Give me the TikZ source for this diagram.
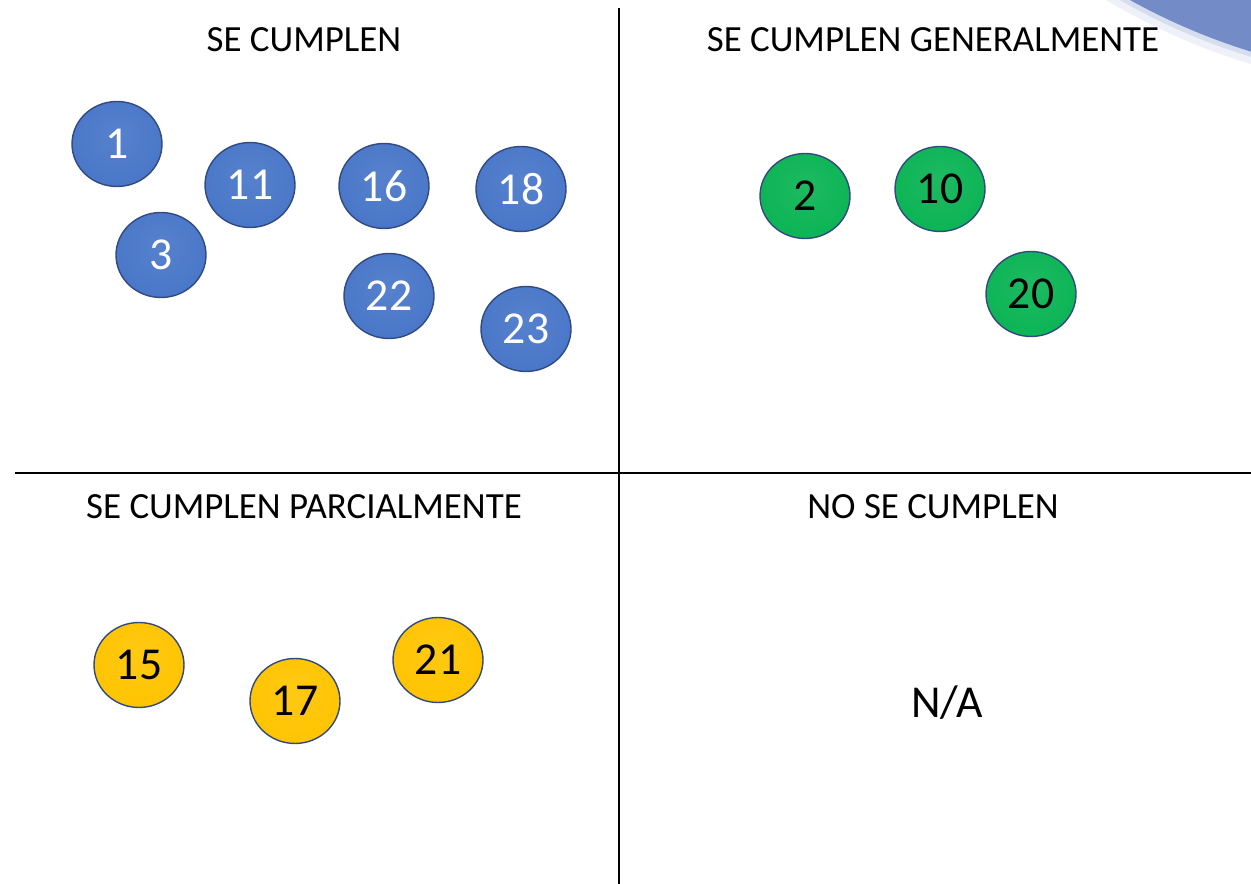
\documentclass[tikz,border=0pt]{standalone}
\usepackage{fontspec}
\setmainfont{Carlito}
\usetikzlibrary{shapes.geometric}

\definecolor{ballblue}{RGB}{72,118,200}
\definecolor{ballgreen}{RGB}{10,180,84}
\definecolor{ballyellow}{RGB}{255,196,0}
\definecolor{rimblue}{RGB}{50,74,128}
\definecolor{cornerblue}{RGB}{115,140,200}

\pgfdeclareradialshading{blueball}{\pgfpoint{0bp}{6bp}}{color(0bp)=(ballblue!92!white); color(30bp)=(ballblue); color(43bp)=(ballblue); color(52bp)=(ballblue!55!black)}
\pgfdeclareradialshading{greenball}{\pgfpoint{0bp}{6bp}}{color(0bp)=(ballgreen!92!white); color(30bp)=(ballgreen); color(43bp)=(ballgreen); color(52bp)=(ballgreen!55!black)}
\pgfdeclareradialshading{yellowball}{\pgfpoint{0bp}{6bp}}{color(0bp)=(ballyellow!92!white); color(30bp)=(ballyellow); color(43bp)=(ballyellow); color(52bp)=(ballyellow!65!black)}

\tikzset{
  every ball/.style={ellipse, minimum width=1.8cm, minimum height=1.7cm, inner sep=0pt,
    draw=rimblue, line width=0.8pt, font=\fontsize{26}{26}\selectfont},
  ball blue/.style={every ball, shading=blueball, text=white},
  ball green/.style={every ball, shading=greenball, text=black},
  ball yellow/.style={every ball, shading=yellowball, text=black},
  quadrant title/.style={font=\fontsize{21}{21}\selectfont, text=black},
}

\begin{document}
\begin{tikzpicture}[x=0.02cm, y=-0.02cm]

        \useasboundingbox (0,0) rectangle (1251,884);

        % corner shape
        \begin{scope}
          \clip (0,0) rectangle (1251,884);
          \fill [white!88!cornerblue] (1440,-560) circle (652);
          \fill [white!70!cornerblue] (1440,-560) circle (645);
          \fill [cornerblue] (1440,-560) circle (640);
        \end{scope}

        % quadrant dividers
        \draw [line width=1.2pt] (619,8) -- (619,884);
        \draw [line width=1.2pt] (15,473) -- (1251,473);

        \node [quadrant title] (title-se) at (304,40) {SE CUMPLEN};
        \node [quadrant title] (title-gen) at (933,40) {SE CUMPLEN GENERALMENTE};
        \node [quadrant title] (title-par) at (304,507) {SE CUMPLEN PARCIALMENTE};
        \node [quadrant title] (title-no) at (933,507) {NO SE CUMPLEN};

        \foreach \n/\x/\y in {1/117/144, 11/250/185, 16/384/186, 18/521/189, 3/161/255, 22/389/296, 23/526/329}
          \node [ball blue] (ball-\n) at (\x,\y) {\n};

        \foreach \n/\x/\y in {2/805/196, 10/940/189, 20/1031/294}
          \node [ball green] (ball-\n) at (\x,\y) {\n};

        \foreach \n/\x/\y in {15/139/665, 17/295/701, 21/438/660}
          \node [ball yellow] (ball-\n) at (\x,\y) {\n};

        \node [font=\fontsize{26}{26}\selectfont] (na) at (947,703) {N/A};

\end{tikzpicture}
\end{document}
